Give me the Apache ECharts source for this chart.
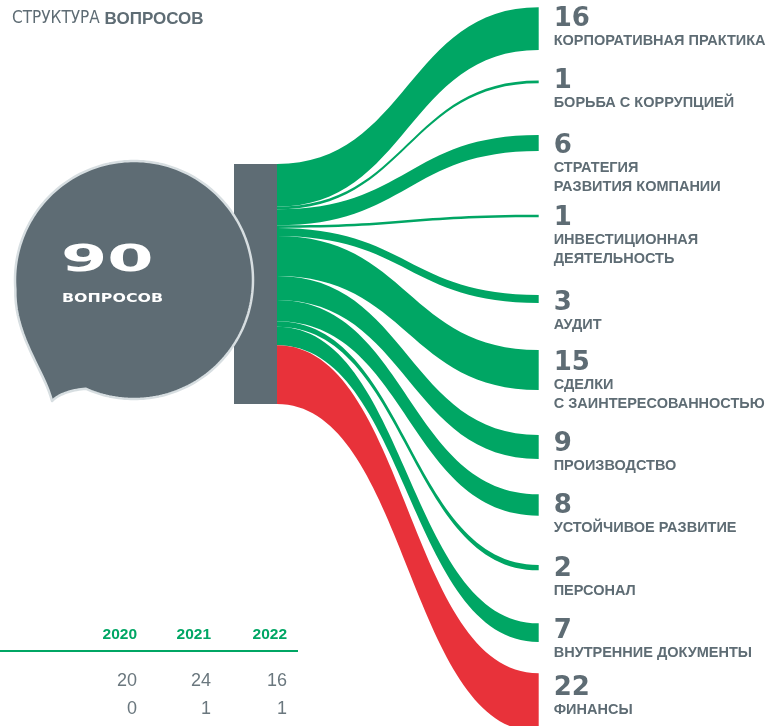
<!DOCTYPE html>
<html><head><meta charset="utf-8">
<script src="https://cdn.jsdelivr.net/npm/echarts@6/dist/echarts.min.js"></script>
<style>html,body{margin:0;padding:0;background:#fff}#c{width:769px;height:726px}</style>
</head><body><div id="c"></div>
<script>
// ---- data ----
const sourceName = 'ВОПРОСЫ';
const categories = [
  'КОРПОРАТИВНАЯ ПРАКТИКА',
  'БОРЬБА С КОРРУПЦИЕЙ',
  'СТРАТЕГИЯ\nРАЗВИТИЯ КОМПАНИИ',
  'ИНВЕСТИЦИОННАЯ\nДЕЯТЕЛЬНОСТЬ',
  'АУДИТ',
  'СДЕЛКИ\nС ЗАИНТЕРЕСОВАННОСТЬЮ',
  'ПРОИЗВОДСТВО',
  'УСТОЙЧИВОЕ РАЗВИТИЕ',
  'ПЕРСОНАЛ',
  'ВНУТРЕННИЕ ДОКУМЕНТЫ',
  'ФИНАНСЫ'
];
const questionCounts = [16, 1, 6, 1, 3, 15, 9, 8, 2, 7, 22];
const redCategory = 'ФИНАНСЫ';
const tableYears = ['2020', '2021', '2022'];
const tableRow1 = [20, 24, 16];
const tableRow2 = [0, 1, 1];

// ---- layout (px) ----
const W = 769, H = 726;
const sourceLeft = 234, sourceTop = 164, sourceHeight = 240, targetLeft = 538.7;
const targetTopPx = [7.3, 80.5, 135, 214.7, 295, 350, 435, 494.3, 565, 623.3, 673.3];
const labelTopPx  = [8, 70, 135, 207, 292, 352, 433, 495, 558, 620, 677];

const GRAY = '#5e6c74', GREEN = '#00a664', RED = '#e8323a';
const total = questionCounts.reduce((a, b) => a + b, 0);

const nodes = [{
  name: sourceName,
  localX: sourceLeft / W, localY: sourceTop / H,
  itemStyle: { color: GRAY, borderWidth: 0 },
  label: { show: false }
}].concat(categories.map((c, i) => ({
  name: c,
  localX: targetLeft / W, localY: targetTopPx[i] / H,
  itemStyle: { color: 'rgba(0,0,0,0)', borderWidth: 0 },
  label: { position: [15, labelTopPx[i] - 1 - targetTopPx[i]] }
})));

const links = categories.map((c, i) => ({
  source: sourceName, target: c, value: questionCounts[i],
  lineStyle: { color: c === redCategory ? RED : GREEN, opacity: 1 }
}));

const numFont = '"DejaVu Sans", sans-serif';
const txtFont = '"Liberation Sans", Arial, sans-serif';

// speech-bubble outline (decoration)
function bubblePoints() {
  const cx = 134, cy = 280, r = 119, pts = [];
  const a0 = 114, a1 = -185;
  for (let a = a0; a >= a1; a -= 1.5) {
    const t = a * Math.PI / 180;
    pts.push([cx + r * Math.cos(t), cy + r * Math.sin(t)]);
  }
  const P2 = pts[pts.length - 1], tip = [52, 401], P1 = pts[0];
  const c1 = [14, 335], c2 = [44, 370];
  for (let k = 1; k <= 20; k++) {
    const t = k / 20, u = 1 - t;
    pts.push([u*u*u*P2[0] + 3*u*u*t*c1[0] + 3*u*t*t*c2[0] + t*t*t*tip[0],
              u*u*u*P2[1] + 3*u*u*t*c1[1] + 3*u*t*t*c2[1] + t*t*t*tip[1]]);
  }
  const q = [62, 391];
  for (let k = 1; k < 20; k++) {
    const t = k / 20, u = 1 - t;
    pts.push([u*u*tip[0] + 2*u*t*q[0] + t*t*P1[0], u*u*tip[1] + 2*u*t*q[1] + t*t*P1[1]]);
  }
  return pts;
}

const graphics = [];
graphics.push({
  type: 'polygon', z: 100,
  shape: { points: bubblePoints() },
  style: { fill: GRAY, stroke: '#d7dee1', lineWidth: 2.5, lineJoin: 'round' }
});
graphics.push({
  type: 'text', z: 101, x: 61, y: 261, scaleX: 1.8,
  style: { text: String(total), fill: '#fff', font: '900 37px ' + numFont, align: 'left', verticalAlign: 'middle' }
});
graphics.push({
  type: 'text', z: 101, x: 62, y: 299, scaleX: 1.22,
  style: { text: 'ВОПРОСОВ', fill: '#fff', font: 'bold 13px ' + numFont, align: 'left', verticalAlign: 'middle' }
});
graphics.push({
  type: 'text', z: 101, x: 12, y: 19,
  style: {
    text: '{a|СТРУКТУРА }{b|ВОПРОСОВ}', verticalAlign: 'middle', align: 'left',
    rich: {
      a: { fontFamily: '"Liberation Sans Narrow", "DejaVu Sans Condensed", Roboto, sans-serif', fontSize: 17, fill: GRAY },
      b: { fontFamily: txtFont, fontWeight: 'bold', fontSize: 17, fill: GRAY }
    }
  }
});
const colX = [137, 211, 287];
tableYears.forEach((y, i) => {
  graphics.push({ type: 'text', z: 101, x: colX[i], y: 635,
    style: { text: y, fill: GREEN, font: 'bold 15.5px ' + txtFont, align: 'right', verticalAlign: 'middle' } });
  graphics.push({ type: 'text', z: 101, x: colX[i], y: 681,
    style: { text: String(tableRow1[i]), fill: '#6a777e', font: '18px ' + txtFont, align: 'right', verticalAlign: 'middle' } });
  graphics.push({ type: 'text', z: 101, x: colX[i], y: 709,
    style: { text: String(tableRow2[i]), fill: '#6a777e', font: '18px ' + txtFont, align: 'right', verticalAlign: 'middle' } });
});
graphics.push({ type: 'line', z: 101, shape: { x1: 0, y1: 651, x2: 298, y2: 651 }, style: { stroke: GREEN, lineWidth: 2 } });

const chart = echarts.init(document.getElementById('c'));
chart.setOption({
  animation: false,
  graphic: { elements: graphics },
  series: [{
    type: 'sankey',
    left: 0, top: 0, right: 0, bottom: 0,
    nodeWidth: 43,
    // scale so that the total (90) spans sourceHeight px
    nodeGap: (H - sourceHeight) / (categories.length - 1),
    layoutIterations: 0,
    draggable: false,
    emphasis: { disabled: true },
    data: nodes,
    links: links,
    lineStyle: { curveness: 0.5, opacity: 1 },
    label: {
      show: true,
      formatter: p => '{n|' + p.value + '}\n' + p.name.split('\n').map(s => '{t|' + s + '}').join('\n'),
      rich: {
        n: { fontFamily: numFont, fontWeight: 'bold', fontSize: 26, lineHeight: 24, color: GRAY },
        t: { fontFamily: txtFont, fontWeight: 'bold', fontSize: 14.5, lineHeight: 19, color: GRAY }
      }
    }
  }]
});
</script>
</body></html>
